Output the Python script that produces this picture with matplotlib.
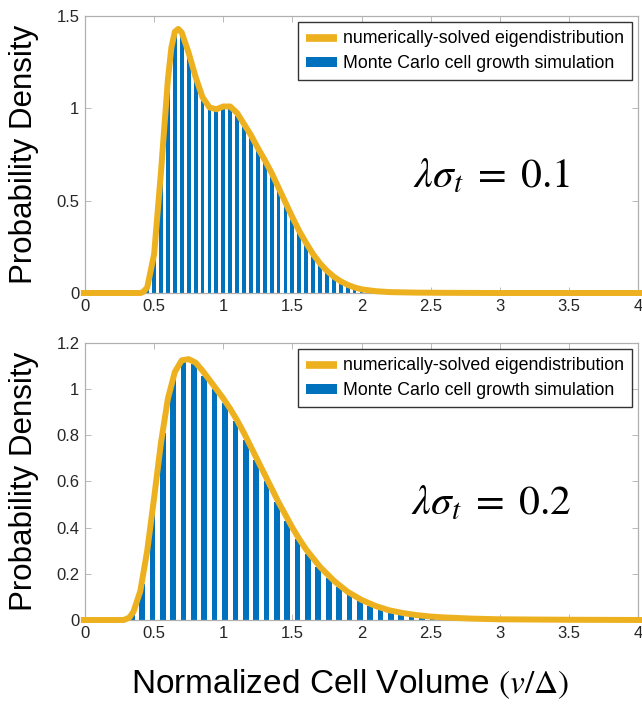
import numpy as np
import matplotlib.pyplot as plt

plt.rcParams['font.family'] = ['Liberation Sans', 'DejaVu Sans']
plt.rcParams['mathtext.fontset'] = 'stix'

'''
Data read off the two panels: Monte Carlo histogram bars and the
numerically-solved eigendistribution curve
'''

# lambda*sigma_t = 0.1, bins of width 0.05
barX1 = [0.45, 0.50, 0.55, 0.60, 0.65, 0.70, 0.75, 0.80, 0.85, 0.90, 0.95, 1.00,
         1.05, 1.10, 1.15, 1.20, 1.25, 1.30, 1.35, 1.40, 1.45, 1.50, 1.55, 1.60,
         1.65, 1.70, 1.75, 1.80, 1.85, 1.90, 1.95, 2.00, 2.05, 2.10, 2.15, 2.20,
         2.25, 2.30]
barY1 = [0.02, 0.18, 0.62, 1.13, 1.40, 1.39, 1.28, 1.15, 1.04, 0.99, 0.99, 1.00,
         1.00, 0.96, 0.90, 0.84, 0.77, 0.71, 0.64, 0.555, 0.48, 0.40, 0.325, 0.26,
         0.198, 0.152, 0.112, 0.081, 0.058, 0.040, 0.025, 0.016, 0.011, 0.007, 0.005, 0.003,
         0.002, 0.001]
curveX1 = [-0.03, 0.40, 0.42, 0.45, 0.50, 0.55, 0.60, 0.625, 0.65, 0.675, 0.70, 0.75,
           0.80, 0.85, 0.90, 0.95, 1.00, 1.05, 1.10, 1.15, 1.20, 1.25, 1.30, 1.35,
           1.40, 1.45, 1.50, 1.55, 1.60, 1.65, 1.70, 1.75, 1.80, 1.85, 1.90, 1.95,
           2.00, 2.10, 2.20, 2.40, 2.60, 3.00, 4.03]
curveY1 = [0.0, 0.0, 0.005, 0.03, 0.21, 0.66, 1.16, 1.33, 1.415, 1.43, 1.41, 1.30,
           1.17, 1.06, 1.005, 0.995, 1.01, 1.01, 0.975, 0.915, 0.855, 0.785, 0.72, 0.65,
           0.57, 0.49, 0.41, 0.335, 0.27, 0.21, 0.16, 0.12, 0.088, 0.063, 0.044, 0.03,
           0.02, 0.01, 0.005, 0.002, 0.001, 0.0, 0.0]

# lambda*sigma_t = 0.2, bins of width 0.075
barX2 = [0.3375, 0.4125, 0.4875, 0.5625, 0.6375, 0.7125, 0.7875, 0.8625, 0.9375,
         1.0125, 1.0875, 1.1625, 1.2375, 1.3125, 1.3875, 1.4625, 1.5375, 1.6125,
         1.6875, 1.7625, 1.8375, 1.9125, 1.9875, 2.0625, 2.1375, 2.2125, 2.2875,
         2.3625, 2.4375, 2.5125, 2.5875, 2.6625, 2.7375, 2.8125, 2.8875, 2.9625,
         3.0375, 3.1125]
barY2 = [0.022, 0.156, 0.462, 0.811, 1.043, 1.117, 1.111, 1.058, 1.00,
         0.942, 0.864, 0.779, 0.693, 0.603, 0.512, 0.43, 0.351, 0.286,
         0.231, 0.183, 0.141, 0.108, 0.084, 0.062, 0.048, 0.036, 0.027,
         0.022, 0.017, 0.013, 0.010, 0.007, 0.006, 0.004, 0.003, 0.002,
         0.0015, 0.001]
curveX2 = [-0.03, 0.28, 0.32, 0.35, 0.40, 0.45, 0.50, 0.55, 0.60, 0.65, 0.70, 0.75,
           0.80, 0.85, 0.90, 0.95, 1.00, 1.05, 1.10, 1.15, 1.20, 1.25, 1.30, 1.35,
           1.40, 1.45, 1.50, 1.55, 1.60, 1.70, 1.80, 1.90, 2.00, 2.10, 2.20, 2.30,
           2.40, 2.50, 2.60, 2.80, 3.00, 3.50, 4.03]
curveY2 = [0.0, 0.0, 0.01, 0.035, 0.125, 0.30, 0.53, 0.77, 0.96, 1.075, 1.125, 1.13,
           1.115, 1.08, 1.04, 1.0, 0.96, 0.915, 0.865, 0.81, 0.75, 0.69, 0.63, 0.57,
           0.51, 0.455, 0.40, 0.35, 0.305, 0.23, 0.17, 0.122, 0.087, 0.061, 0.042, 0.030,
           0.021, 0.015, 0.011, 0.006, 0.003, 0.001, 0.0]

panels = [
    (barX1, barY1, 0.05, curveX1, curveY1, 1.5, [0, 0.5, 1, 1.5], r'$\lambda\sigma_t\;=\;0.1$'),
    (barX2, barY2, 0.075, curveX2, curveY2, 1.2, [0, 0.2, 0.4, 0.6, 0.8, 1, 1.2], r'$\lambda\sigma_t\;=\;0.2$'),
]

blue = '#0072BD'
yellow = '#EDB120'

fig = plt.figure(figsize=(6.42, 7.11), dpi=100)
axPos = [[0.1324, 0.5879, 0.8614, 0.3896], [0.1324, 0.1280, 0.8614, 0.3896]]

for pos, (bx, by, bw, cx, cy, ytop, yt, lab) in zip(axPos, panels):
    ax = fig.add_axes(pos)
    ax.plot(cx, cy, color=yellow, lw=4.3, label='numerically-solved eigendistribution',
            zorder=3, clip_on=False, solid_capstyle='butt')
    ax.bar(bx, by, width=0.55*bw, color=blue, label='Monte Carlo cell growth simulation', zorder=2)
    ax.set_xlim(0, 4)
    ax.set_ylim(0, ytop)
    ax.set_xticks([0, 0.5, 1, 1.5, 2, 2.5, 3, 3.5, 4])
    ax.set_xticklabels(['0', '0.5', '1', '1.5', '2', '2.5', '3', '3.5', '4'])
    ax.set_yticks(yt)
    ax.set_yticklabels(['{:g}'.format(v) for v in yt])
    ax.tick_params(direction='in', length=4, width=0.6, color='#b0b0b0',
                   labelcolor='#262626', labelsize=12, top=True, right=True, pad=4)
    for s in ax.spines.values():
        s.set_color('#b0b0b0')
        s.set_linewidth(0.9)
    ax.set_ylabel('Probability Density', fontsize=22.5)
    ax.yaxis.set_label_coords(-0.083, 0.5)
    ax.text(0.735, 0.42, lab, transform=ax.transAxes, fontsize=30, ha='center', va='center')
    leg = ax.legend(loc='upper right', fontsize=12.8, frameon=True,
                    fancybox=False, edgecolor='black', borderaxespad=0.35,
                    handlelength=1.7, handleheight=0.45, handletextpad=0.35,
                    borderpad=0.45, labelspacing=0.45)
    leg.get_frame().set_linewidth(1.0)
    leg.legend_handles[0].set_linewidth(5.5)

fig.text(0.545, 0.037, r'Normalized Cell Volume $(v/\Delta)$', fontsize=24, ha='center', va='center')

plt.savefig('out.png', dpi=100)
